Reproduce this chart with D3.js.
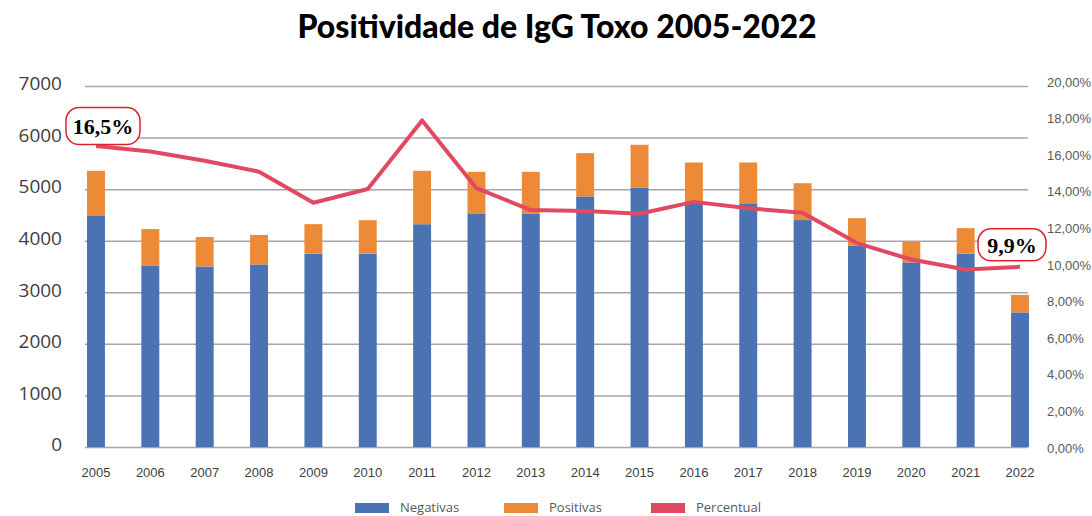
<!DOCTYPE html>
<html>
<head>
<meta charset="utf-8">
<script src="https://cdn.jsdelivr.net/npm/d3@7"></script>
<style>
  body { margin: 0; background: #fff; }
  svg { display: block; font-family: "Open Sans", sans-serif; }
</style>
</head>
<body>
<div id="chart"></div>
<script>
const years = ["2005","2006","2007","2008","2009","2010","2011","2012","2013","2014","2015","2016","2017","2018","2019","2020","2021","2022"];
const negativas = [4480, 3520, 3500, 3540, 3750, 3750, 4320, 4530, 4520, 4860, 5030, 4725, 4725, 4400, 3900, 3580, 3750, 2610];
const positivas = [876, 705, 571, 572, 571, 648, 1036, 806, 816, 838, 830, 792, 792, 715, 537, 395, 494, 339];
const percentual = [16.5, 16.2, 15.7, 15.1, 13.4, 14.15, 17.9, 14.2, 13.0, 12.95, 12.8, 13.45, 13.1, 12.85, 11.2, 10.3, 9.75, 9.9];
const leftTicks = [0, 1000, 2000, 3000, 4000, 5000, 6000, 7000];
const rightTicks = [0, 2, 4, 6, 8, 10, 12, 14, 16, 18, 20];
const callouts = [{ index: 0, text: "16,5%" }, { index: 17, text: "9,9%" }];
const legendItems = [
  { name: "Negativas", color: "#4b73b3" },
  { name: "Positivas", color: "#ec8a38" },
  { name: "Percentual", color: "#e14963" }
];

const width = 1092, height = 516;
const plot = { left: 85, right: 1028, top: 86, bottom: 447 };

const svg = d3.select("#chart")
  .append("svg")
  .attr("width", width)
  .attr("height", height)

svg.append("text")
  .attr("x", 557)
  .attr("y", 38)
  .attr("text-anchor", "middle")
  .style("font-family", "Lato, sans-serif")
  .style("font-weight", 900)
  .style("font-size", "32px")
  .attr("fill", "#000")
  .text("Positividade de IgG Toxo 2005-2022")

const xScale = d3.scaleBand()
  .domain(years)
  .range([68.8, 1047.2])
  .paddingInner(0.67)
  .paddingOuter(0.335)

const yScale = d3.scaleLinear()
  .domain([0, 7000])
  .range([plot.bottom, plot.top])

const pScale = d3.scaleLinear()
  .domain([0, 20])
  .range([plot.bottom + 1, plot.top - 4])

// gridlines + left axis
const yAxis = svg.append("g")
  .attr("transform", `translate(${plot.left},0)`)
  .call(d3.axisLeft(yScale).tickValues(leftTicks).tickSize(-(plot.right - plot.left)).tickPadding(23).tickFormat(d3.format("d")))
yAxis.select(".domain").remove()
yAxis.selectAll(".tick line").attr("stroke", "#a6a6a6").attr("stroke-width", 1.5)
yAxis.selectAll(".tick text")
  .attr("fill", "#404040")
  .attr("dy", "0.2em")
  .style("font-size", "19px")
  .style("font-family", "'Open Sans', sans-serif")

// right axis
const rAxis = svg.append("g")
  .attr("transform", `translate(${plot.right},0)`)
  .call(d3.axisRight(pScale).tickValues(rightTicks).tickSize(0).tickPadding(19)
    .tickFormat(d => d.toFixed(2).replace(".", ",") + "%"))
rAxis.select(".domain").remove()
rAxis.selectAll(".tick text")
  .attr("fill", "#595959")
  .style("font-size", "13px")

// stacked bars
const stacked = years.map((y, i) => ({ year: y, neg: negativas[i], pos: positivas[i] }));
const bars = svg.append("g")
bars.selectAll(".neg")
  .data(stacked)
  .join("rect")
  .attr("x", d => xScale(d.year))
  .attr("width", xScale.bandwidth())
  .attr("y", d => yScale(d.neg))
  .attr("height", d => yScale(0) - yScale(d.neg))
  .attr("fill", "#4b73b3")
bars.selectAll(".pos")
  .data(stacked)
  .join("rect")
  .attr("x", d => xScale(d.year))
  .attr("width", xScale.bandwidth())
  .attr("y", d => yScale(d.neg + d.pos))
  .attr("height", d => yScale(d.neg) - yScale(d.neg + d.pos))
  .attr("fill", "#ec8a38")

// x labels
const xAxis = svg.append("g")
  .attr("transform", `translate(0,${plot.bottom})`)
  .call(d3.axisBottom(xScale).tickSize(0).tickPadding(21))
xAxis.select(".domain").remove()
xAxis.selectAll(".tick text")
  .attr("fill", "#404040")
  .style("font-size", "13px")

// percent line
const lineX = (d, i) => xScale(years[i]) + xScale.bandwidth() / 2;
const line = d3.line()
  .x(lineX)
  .y(d => pScale(d))
svg.append("path")
  .attr("d", line(percentual))
  .attr("fill", "none")
  .attr("stroke", "#e14963")
  .attr("stroke-width", 4)
  .attr("stroke-linejoin", "round")

// callouts
const calloutPos = [{ dx: 7, dy: -20, w: 74, h: 37 }, { dx: -8, dy: -22, w: 68, h: 32 }];
callouts.forEach((c, k) => {
  const cx = lineX(null, c.index) + calloutPos[k].dx;
  const cy = pScale(percentual[c.index]) + calloutPos[k].dy;
  const p = calloutPos[k];
  svg.append("rect")
    .attr("x", cx - p.w / 2)
    .attr("y", cy - p.h / 2)
    .attr("width", p.w)
    .attr("height", p.h)
    .attr("rx", 13)
    .attr("fill", "#fff")
    .attr("stroke", "#e0202a")
    .attr("stroke-width", 1.5)
  svg.append("text")
    .attr("x", cx)
    .attr("y", cy + 8)
    .attr("text-anchor", "middle")
    .style("font-family", "'Liberation Serif', serif")
    .style("font-weight", "bold")
    .style("font-size", "22px")
    .attr("fill", "#000")
    .text(c.text)
});

// legend
const legendX = [355, 504, 651];
const legend = svg.append("g")
legendItems.forEach((item, i) => {
  legend.append("rect")
    .attr("x", legendX[i])
    .attr("y", 503)
    .attr("width", 34)
    .attr("height", 10)
    .attr("fill", item.color)
  legend.append("text")
    .attr("x", legendX[i] + 45)
    .attr("y", 512)
    .attr("fill", "#595959")
    .style("font-size", "13px")
    .text(item.name)
});
</script>
</body>
</html>
